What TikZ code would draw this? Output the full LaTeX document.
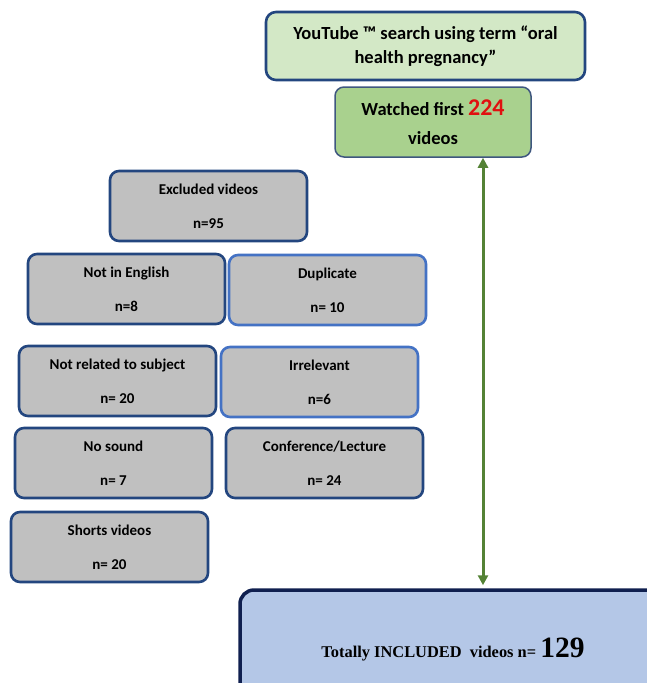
\documentclass[tikz,border=0pt]{standalone}
\usepackage{fontspec}
\setmainfont{Carlito}
\newfontfamily\serifb{Liberation Serif}
\usetikzlibrary{arrows.meta,calc}
\definecolor{gbfill}{HTML}{C0C0C0}
\definecolor{dkblue}{HTML}{23467F}
\definecolor{ltblue}{HTML}{4472C4}
\definecolor{topfill}{HTML}{D3E8C6}
\definecolor{watchfill}{HTML}{A9D18E}
\definecolor{navy}{HTML}{0F1F4F}
\definecolor{inclfill}{HTML}{B4C7E7}
\definecolor{arrgreen}{HTML}{548235}
\definecolor{redtxt}{HTML}{E01010}
\tikzset{
  graybox/.style={draw=dkblue, line width=2.6pt, fill=gbfill, rounded corners=9pt,
    minimum width=197pt, minimum height=70pt, align=center, inner sep=0pt,
    font=\fontsize{15}{18}\selectfont\bfseries, text=black},
  lightgraybox/.style={graybox, draw=ltblue},
  topbox/.style={draw=dkblue, line width=2.6pt, fill=topfill, rounded corners=10pt,
    minimum width=319pt, minimum height=68pt, align=center, inner sep=0pt,
    font=\fontsize{18.5}{24}\selectfont\bfseries, text=black},
  watchbox/.style={draw=dkblue!70!gray, line width=1.5pt, fill=watchfill, rounded corners=9pt,
    minimum width=196pt, minimum height=70pt, align=center, inner sep=0pt,
    font=\fontsize{18.5}{29}\selectfont\bfseries, text=black},
  inclbox/.style={draw=navy, line width=3.5pt, fill=inclfill, rounded corners=14pt,
    minimum width=430pt, minimum height=120pt, inner sep=0pt},
  incltext/.style={font=\serifb\fontsize{16.4}{18}\selectfont\bfseries, text=black},
  greenarrow/.style={draw=arrgreen, line width=3pt, {Triangle[length=10pt,width=10pt]}-{Triangle[length=10pt,width=10pt]}}
}
\begin{document}
\begin{tikzpicture}[x=1pt,y=-1pt]
\useasboundingbox (0,0) rectangle (647,683);
\node[topbox] (search) at (425.5,46) {YouTube ™ search using term “oral\\health pregnancy”};
\node[watchbox] (watched) at (433,122) {Watched first {\color{redtxt}\fontsize{24}{24}\selectfont 224}\\videos};
\node[graybox] (excl) at (208.5,206) {Excluded videos\\[16pt]n=95};
\node[graybox] (eng) at (126.5,289) {Not in English\\[16pt]n=8};
\node[lightgraybox] (dup) at (327.5,290) {Duplicate\\[16pt]n= 10};
\node[graybox] (notrel) at (117.5,381) {Not related to subject\\[16pt]n= 20};
\node[lightgraybox] (irr) at (319.5,382) {Irrelevant\\[16pt]n=6};
\node[graybox] (nosound) at (113.5,463) {No sound\\[16pt]n= 7};
\node[graybox] (conf) at (324.5,463) {Conference/Lecture\\[16pt]n= 24};
\node[graybox] (shorts) at (109.5,547) {Shorts videos\\[16pt]n= 20};
\node[inclbox] (incl) at (455,650) {};
\node[incltext, anchor=base] (incltxt) at (453,657) {Totally INCLUDED\ \ videos n= {\fontsize{29.5}{30}\selectfont 129}};
\coordinate (a1) at ($(watched.south)+(50,0)$);
\coordinate (a2) at (a1 |- incl.north);
\draw[greenarrow] (a1) -- ($(a2)+(0,-3)$);
\end{tikzpicture}
\end{document}
